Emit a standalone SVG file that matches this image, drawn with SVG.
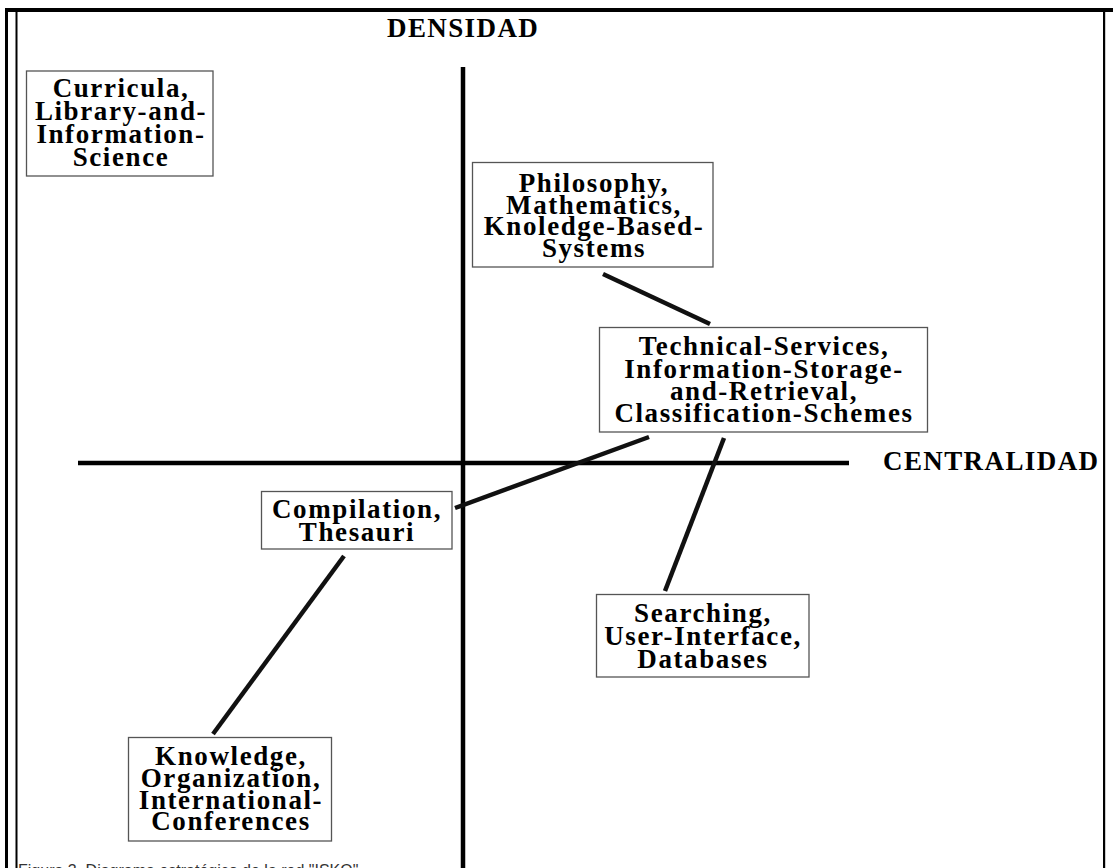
<svg xmlns="http://www.w3.org/2000/svg" width="1113" height="868" viewBox="0 0 1113 868">
<style>
.lbl{font-family:"Liberation Serif","Times New Roman",serif;font-weight:bold;font-size:27px;letter-spacing:1.6px;fill:#000;text-anchor:middle}
.axlbl{font-family:"Liberation Serif","Times New Roman",serif;font-weight:bold;font-size:27px;letter-spacing:1.4px;fill:#000}
.box{fill:#fff;stroke:#555;stroke-width:1.3}
.conn{stroke:#111;stroke-width:4.5;fill:none}
.axis{stroke:#000;stroke-width:4.5;fill:none}
.frame{fill:#000}
.cap{font-family:"Liberation Sans",Arial,sans-serif;font-size:16px;fill:#333}
</style>
<rect width="1113" height="868" fill="#fff"/>
<g id="frame">
<rect class="frame" x="5" y="8" width="1108" height="4"/>
<rect class="frame" x="5" y="12" width="3" height="856"/>
<rect class="frame" x="15.5" y="12" width="2" height="856"/>
<rect class="frame" x="1103" y="12" width="2.2" height="856"/>
</g>
<g id="axes">
<line class="axis" x1="463" y1="67" x2="463" y2="868"/>
<line class="axis" x1="78" y1="463" x2="849" y2="463"/>
<text class="axlbl" x="387" y="37">DENSIDAD</text>
<text class="axlbl" x="883" y="470">CENTRALIDAD</text>
</g>
<g id="connectors">
<line class="conn" x1="603" y1="274" x2="710" y2="324"/>
<line class="conn" x1="649" y1="437" x2="455" y2="508"/>
<line class="conn" x1="724" y1="438" x2="665" y2="591"/>
<line class="conn" x1="344" y1="556" x2="213" y2="734"/>
</g>
<g id="n-curricula">
<rect class="box" x="26.5" y="71" width="186.5" height="105"/>
<text class="lbl"><tspan x="121" y="97">Curricula,</tspan><tspan x="121" y="120">Library-and-</tspan><tspan x="121" y="143">Information-</tspan><tspan x="121" y="166">Science</tspan></text>
</g>
<g id="n-philosophy">
<rect class="box" x="472.5" y="162.5" width="240.5" height="104.5"/>
<text class="lbl"><tspan x="594" y="192">Philosophy,</tspan><tspan x="594" y="213.5">Mathematics,</tspan><tspan x="594" y="235">Knoledge-Based-</tspan><tspan x="594" y="257">Systems</tspan></text>
</g>
<g id="n-technical">
<rect class="box" x="599.5" y="327.5" width="328" height="104.5"/>
<text class="lbl"><tspan x="764" y="355">Technical-Services,</tspan><tspan x="764" y="377.5">Information-Storage-</tspan><tspan x="764" y="400">and-Retrieval,</tspan><tspan x="764" y="422">Classification-Schemes</tspan></text>
</g>
<g id="n-compilation">
<rect class="box" x="261.5" y="491.5" width="190.5" height="57.5"/>
<text class="lbl"><tspan x="357" y="518">Compilation,</tspan><tspan x="357" y="541">Thesauri</tspan></text>
</g>
<g id="n-searching">
<rect class="box" x="596.5" y="594.5" width="212.5" height="82.5"/>
<text class="lbl"><tspan x="703" y="622">Searching,</tspan><tspan x="703" y="645">User-Interface,</tspan><tspan x="703" y="668">Databases</tspan></text>
</g>
<g id="n-knowledge">
<rect class="box" x="128.5" y="737.5" width="203" height="103.5"/>
<text class="lbl"><tspan x="231" y="765">Knowledge,</tspan><tspan x="231" y="787">Organization,</tspan><tspan x="231" y="808.5">International-</tspan><tspan x="231" y="830">Conferences</tspan></text>
</g>
<text class="cap" x="18" y="876">Figura 3. Diagrama estratégico de la red "ISKO"</text>
</svg>
